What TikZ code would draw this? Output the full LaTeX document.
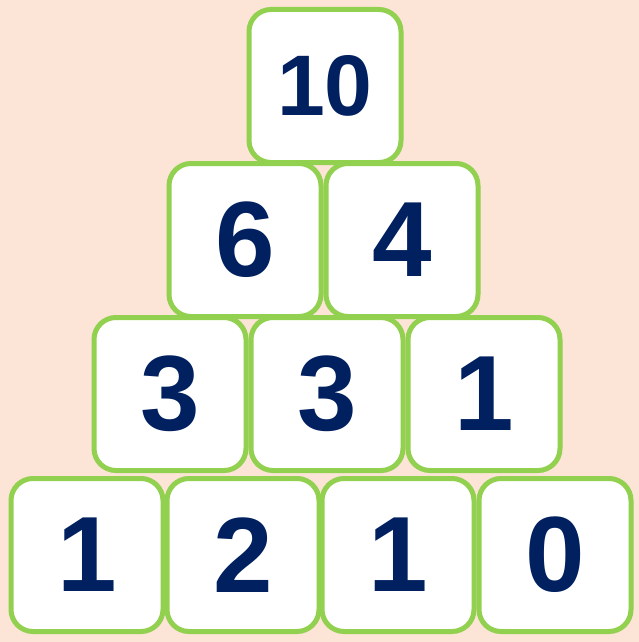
\documentclass[tikz,border=0pt]{standalone}
\usepackage{fontspec}
\setmainfont{Liberation Sans}
\usepackage{xcolor}
\usepackage{tikz}
\definecolor{peach}{HTML}{FCE4D6}
\definecolor{leaf}{HTML}{92D050}
\definecolor{navy}{HTML}{002060}
\tikzset{
  brick/.style={rectangle,rounded corners=22pt,draw=leaf,fill=white,line width=5pt,
    minimum width=152pt,minimum height=153pt,inner sep=0pt,text=navy,
    font=\fontsize{107}{107}\selectfont\bfseries},
  topbrick/.style={brick,font=\fontsize{86}{86}\selectfont\bfseries}
}
\begin{document}
\begin{tikzpicture}[x=1pt,y=-1pt]
\fill[peach] (0,0) rectangle (639,642);
\useasboundingbox (0,0) rectangle (639,642);
% bottom row
\node[brick] (d1) at (87,555) {1};
\node[brick] (d2) at (243,555) {2};
\node[brick] (d3) at (398,555) {1};
\node[brick] (d4) at (555,555) {0};
% third row
\node[brick] (c1) at (170,394) {3};
\node[brick] (c2) at (327,394) {3};
\node[brick] (c3) at (484,394) {1};
% second row
\node[brick] (b1) at (245,240) {6};
\node[brick] (b2) at (402,240) {4};
% top
\node[topbrick] (a1) at (325,86) {10};
\end{tikzpicture}
\end{document}
